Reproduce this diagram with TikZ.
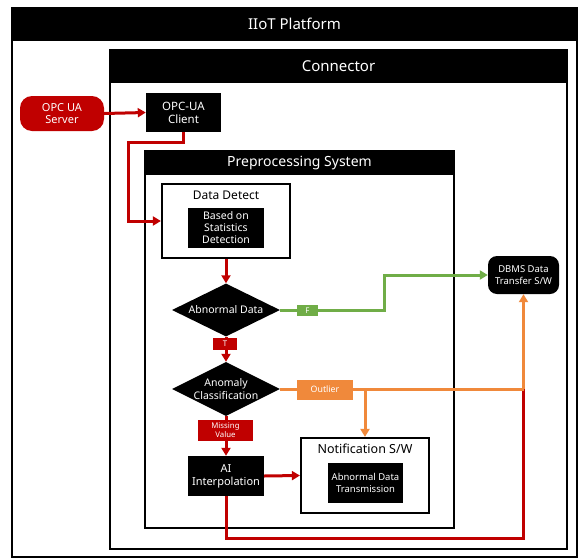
\documentclass[tikz,border=0pt]{standalone}
\usepackage{fontspec}
\setmainfont{Noto Sans}
\usetikzlibrary{arrows.meta,shapes.geometric,calc}
\definecolor{myred}{HTML}{C00000}
\definecolor{mygreen}{HTML}{70AD47}
\definecolor{myorange}{HTML}{F0893B}
\begin{document}
\begin{tikzpicture}[x=1pt,y=-1pt,
  frame/.style={draw=black, line width=1.8pt, fill=white, inner sep=0pt},
  bar/.style={fill=black, text=white, inner sep=0pt},
  blackbox/.style={fill=black, text=white, align=center, inner sep=0pt, font=\fontsize{9.5}{11}\selectfont},
  dia/.style={diamond, fill=black, inner sep=0pt},
  diatext/.style={text=white, align=center, inner sep=0pt, font=\fontsize{10.5}{12.5}\selectfont},
  tag/.style={text=white, align=center, inner sep=0pt, font=\fontsize{7.8}{9}\selectfont},
  tip/.style={-{Triangle[length=8pt,width=9pt]}},
  redline/.style={draw=myred, line width=3pt},
  greenline/.style={draw=mygreen, line width=3pt},
  orangeline/.style={draw=myorange, line width=3pt}
]
\useasboundingbox (0,0) rectangle (579,560);

% frames
\node[frame, minimum width=565pt, minimum height=549pt] (platform) at (294.5,282.5) {};
\node[bar, minimum width=565pt, minimum height=34pt, anchor=north, font=\fontsize{15}{17}\selectfont] (platformbar) at (platform.north) {IIoT Platform};
\node[frame, minimum width=457pt, minimum height=499pt] (connector) at (338.5,299.5) {};
\node[bar, minimum width=457pt, minimum height=34pt, anchor=north, font=\fontsize{15}{17}\selectfont] (connectorbar) at (connector.north) {Connector};
\node[frame, minimum width=309pt, minimum height=377pt] (pre) at (299.5,339.5) {};
\node[bar, minimum width=309pt, minimum height=25pt, anchor=north, font=\fontsize{14}{16}\selectfont] (prebar) at (pre.north) {Preprocessing System};

% boxes
\node[fill=myred, rounded corners=12pt, text=white, align=center, inner sep=0pt, minimum width=84pt, minimum height=35pt, font=\fontsize{11}{12.5}\selectfont] (server) at (62,113.5) {OPC UA\\Server};
\node[blackbox, minimum width=75pt, minimum height=39pt, font=\fontsize{11.5}{13}\selectfont] (client) at (183.5,112.5) {OPC-UA\\Client};

\node[frame, line width=2.2pt, minimum width=128pt, minimum height=74pt] (dd) at (226,221) {};
\node[inner sep=0pt, font=\fontsize{12}{14}\selectfont] (ddtitle) at (226,195) {Data Detect};
\node[blackbox, minimum width=76pt, minimum height=40pt, font=\fontsize{10.5}{12}\selectfont] (based) at (226,228) {Based on\\Statistics\\Detection};

\node[dia, minimum width=108pt, minimum height=53pt] (abn) at (226,310) {};
\node[diatext] (abntext) at (abn.center) {Abnormal Data};
\node[dia, minimum width=108pt, minimum height=54pt] (anom) at (226,389) {};
\node[diatext] (anomtext) at (anom.center) {Anomaly\\Classification};

\node[blackbox, minimum width=76pt, minimum height=40pt, font=\fontsize{11}{13}\selectfont] (ai) at (226,476) {AI\\Interpolation};

\node[frame, line width=2.2pt, minimum width=128pt, minimum height=75pt] (notif) at (365,475.5) {};
\node[inner sep=0pt, font=\fontsize{12.5}{14}\selectfont] (notiftitle) at (365,449) {Notification S/W};
\node[blackbox, minimum width=75pt, minimum height=40pt, font=\fontsize{9.5}{11.5}\selectfont] (abntrans) at (365.5,483) {Abnormal Data\\Transmission};

\node[fill=black, rounded corners=9pt, text=white, align=center, inner sep=0pt, minimum width=71pt, minimum height=38pt, font=\fontsize{9.5}{11.5}\selectfont] (dbms) at (523.5,275) {DBMS Data\\Transfer S/W};

% helper coordinates
\coordinate (c1) at (128,142);
\coordinate (g1) at (384,292);
\coordinate (o1) at (dbms.south |- anom.east);
\coordinate (o2) at (notif.north |- anom.east);
\coordinate (r1) at (ai.south |- 0,538);
\coordinate (r2) at (dbms.south |- 0,538);

% connectors
\draw[redline, tip] (server.east) -- (client.west);
\draw[redline, tip] (client.south) |- (c1) |- (dd.west);
\draw[redline, tip] (dd.south) -- (abn.north);
\draw[redline, tip] (abn.south) -- (anom.north);
\draw[redline, tip] (anom.south) -- (ai.north);
\draw[redline, tip] (ai.east) -- (notif.west);
\draw[redline] (ai.south) -- (r1) -- (r2) -- (o1);
\draw[greenline, tip] (abn.east) -| (g1) |- (dbms.west);
\draw[orangeline] (anom.east) -- (o1);
\draw[orangeline, tip] (o1) -- (dbms.south);
\draw[orangeline, tip] (o2) -- (notif.north);

% labels on connectors
\node[tag, fill=myred, minimum width=24pt, minimum height=12pt] (tlabel) at (225,344) {T};
\node[tag, fill=myred, minimum width=55pt, minimum height=21pt] (missing) at (225.5,430.5) {Missing\\Value};
\node[tag, fill=mygreen, minimum width=21pt, minimum height=11pt] (flabel) at (307.5,310.5) {F};
\node[tag, fill=myorange, minimum width=56pt, minimum height=20pt, font=\fontsize{8.8}{10}\selectfont] (outlier) at (325,389.5) {Outlier};
\end{tikzpicture}
\end{document}
